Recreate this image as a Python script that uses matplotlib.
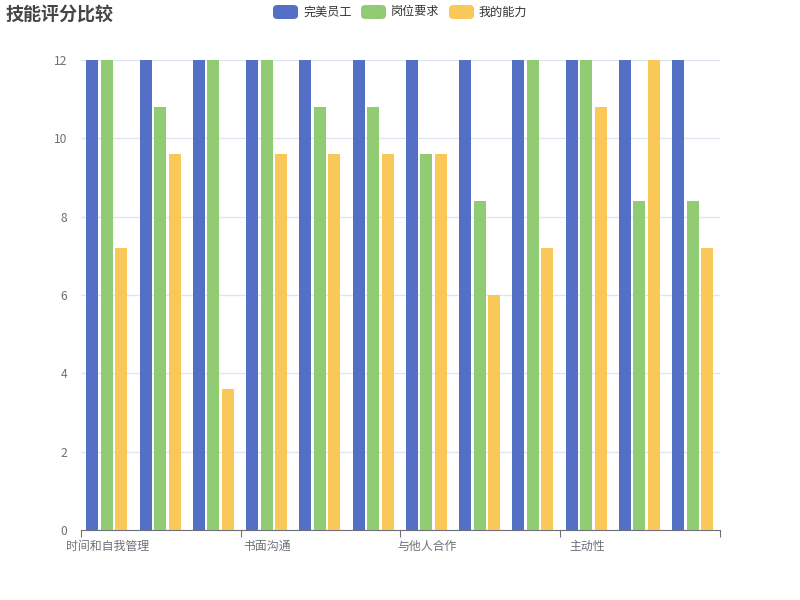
import numpy as np
import matplotlib.pyplot as plt
from matplotlib.patches import FancyBboxPatch

plt.rcParams['font.family'] = ['Noto Sans CJK SC', 'DejaVu Sans']

# data
categories = ["时间和自我管理", "口头表达", "学习能力", "书面沟通", "解决问题", "执行力",
              "与他人合作", "领导力", "抗压能力", "主动性", "创新能力", "专业技能"]
series_names = ["完美员工", "岗位要求", "我的能力"]
perfect = [12, 12, 12, 12, 12, 12, 12, 12, 12, 12, 12, 12]
required = [12, 10.8, 12, 12, 10.8, 10.8, 9.6, 8.4, 12, 12, 8.4, 8.4]
mine = [7.2, 9.6, 3.6, 9.6, 9.6, 9.6, 9.6, 6.0, 7.2, 10.8, 12, 7.2]

colors = ["#5470c6", "#91cc75", "#fac858"]
axis_color = "#6E7079"
grid_color = "#E0E6F1"

fig = plt.figure(figsize=(8, 6), dpi=100)
ax = fig.add_axes([81 / 800, 70 / 600, 639 / 800, 470 / 600])

x = np.arange(len(categories))
bar_w = 0.225
step = 0.272
for i, vals in enumerate([perfect, required, mine]):
    ax.bar(x + (i - 1) * step - 0.015, vals, width=bar_w, color=colors[i], zorder=3)

ax.set_xlim(-0.5, len(categories) - 0.5)
ax.set_ylim(0, 12)
ax.set_yticks(range(0, 13, 2))
ax.yaxis.grid(True, color=grid_color, linewidth=1, zorder=0)
ax.tick_params(axis='y', length=0, pad=10, labelcolor=axis_color, labelsize=8.7)

# ticks at group boundaries, labels at every third category
ax.set_xticks(np.arange(-0.5, len(categories), 3))
ax.set_xticklabels([])
ax.set_xticks(x[::3], minor=True)
ax.set_xticklabels([categories[k] for k in x[::3]], minor=True)
ax.tick_params(axis='x', which='major', length=5, color=axis_color, direction='out')
ax.tick_params(axis='x', which='minor', length=0, pad=7, labelcolor=axis_color, labelsize=8.6)

for s in ['top', 'right', 'left']:
    ax.spines[s].set_visible(False)
ax.spines['bottom'].set_color(axis_color)

# title
fig.text(6 / 800, 1 - 14 / 600, "技能评分比较", fontsize=13, fontweight='bold',
         color="#464646", va='center', ha='left')

# legend drawn by hand, ECharts style
legend_x = [273, 361, 449]
for lx, name, c in zip(legend_x, series_names, colors):
    fig.patches.append(FancyBboxPatch((lx / 800, 1 - 19 / 600), 25 / 800, 14 / 600,
                                      boxstyle="round,pad=0,rounding_size=0.006",
                                      transform=fig.transFigure, color=c, linewidth=0))
    fig.text((lx + 30) / 800, 1 - 12 / 600, name, fontsize=8.7, color="#333333",
             va='center', ha='left')

fig.savefig("out.png", dpi=100)
